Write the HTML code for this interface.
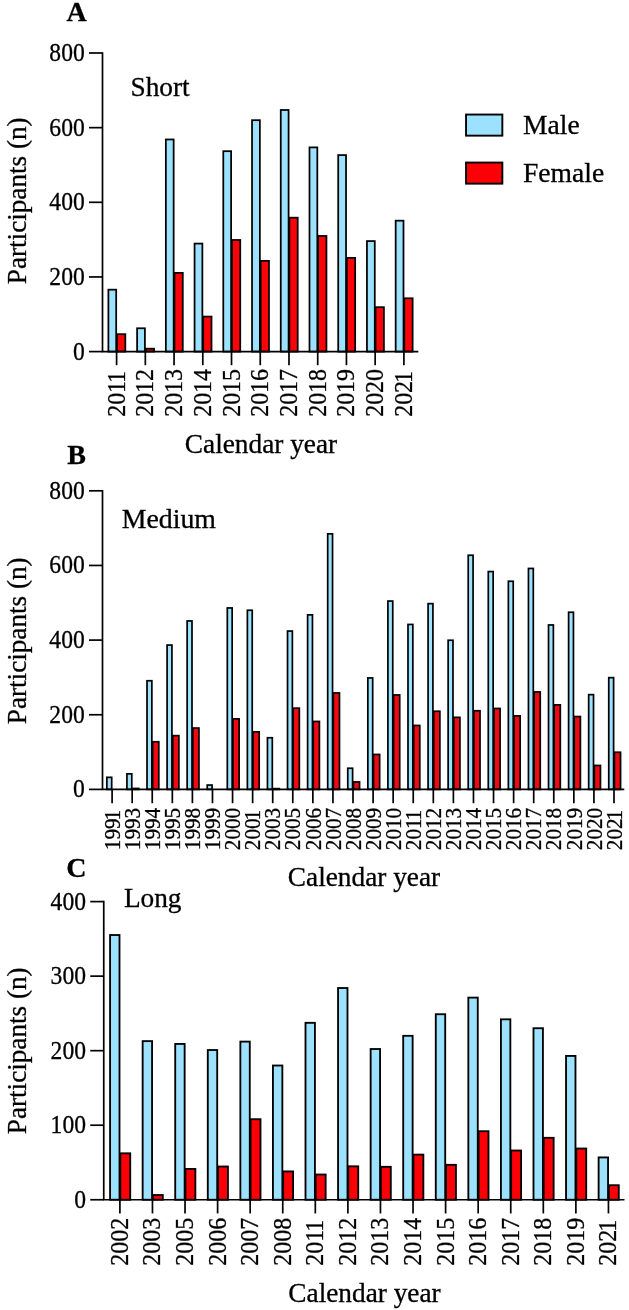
<!DOCTYPE html>
<html><head><meta charset="utf-8"><title>Figure</title>
<style>
html,body{margin:0;padding:0;background:#fff;}
body{width:629px;height:1310px;overflow:hidden;}
svg{display:block;filter:blur(0.35px);}
text{font-family:"Liberation Serif",serif;fill:#000;stroke:#000;stroke-width:0.3px;}
</style></head><body>
<svg width="629" height="1310" viewBox="0 0 629 1310">
<rect width="629" height="1310" fill="#fff"/>
<text x="76.6" y="21" font-size="28" font-weight="bold" text-anchor="middle">A</text>
<text x="130.5" y="96" font-size="27.3">Short</text>
<rect x="108.38" y="289.67" width="7.82" height="61.93" fill="#9ce1fd" stroke="#000" stroke-width="1.75"/>
<rect x="117.00" y="334.17" width="8.32" height="17.43" fill="#f80409" stroke="#000" stroke-width="1.75"/>
<rect x="137.10" y="328.27" width="7.82" height="23.33" fill="#9ce1fd" stroke="#000" stroke-width="1.75"/>
<rect x="145.73" y="348.67" width="8.32" height="2.93" fill="#f80409" stroke="#000" stroke-width="1.75"/>
<rect x="165.84" y="139.47" width="7.82" height="212.13" fill="#9ce1fd" stroke="#000" stroke-width="1.75"/>
<rect x="174.46" y="272.88" width="8.32" height="78.73" fill="#f80409" stroke="#000" stroke-width="1.75"/>
<rect x="194.56" y="243.58" width="7.82" height="108.03" fill="#9ce1fd" stroke="#000" stroke-width="1.75"/>
<rect x="203.19" y="316.57" width="8.32" height="35.03" fill="#f80409" stroke="#000" stroke-width="1.75"/>
<rect x="223.29" y="151.18" width="7.82" height="200.43" fill="#9ce1fd" stroke="#000" stroke-width="1.75"/>
<rect x="231.92" y="239.97" width="8.32" height="111.63" fill="#f80409" stroke="#000" stroke-width="1.75"/>
<rect x="252.03" y="120.18" width="7.83" height="231.43" fill="#9ce1fd" stroke="#000" stroke-width="1.75"/>
<rect x="260.65" y="260.88" width="8.33" height="90.73" fill="#f80409" stroke="#000" stroke-width="1.75"/>
<rect x="280.75" y="109.98" width="7.83" height="241.62" fill="#9ce1fd" stroke="#000" stroke-width="1.75"/>
<rect x="289.38" y="217.68" width="8.33" height="133.93" fill="#f80409" stroke="#000" stroke-width="1.75"/>
<rect x="309.49" y="147.38" width="7.83" height="204.23" fill="#9ce1fd" stroke="#000" stroke-width="1.75"/>
<rect x="318.11" y="235.97" width="8.33" height="115.63" fill="#f80409" stroke="#000" stroke-width="1.75"/>
<rect x="338.21" y="155.08" width="7.83" height="196.53" fill="#9ce1fd" stroke="#000" stroke-width="1.75"/>
<rect x="346.84" y="257.88" width="8.33" height="93.73" fill="#f80409" stroke="#000" stroke-width="1.75"/>
<rect x="366.94" y="241.08" width="7.83" height="110.53" fill="#9ce1fd" stroke="#000" stroke-width="1.75"/>
<rect x="375.57" y="307.17" width="8.33" height="44.43" fill="#f80409" stroke="#000" stroke-width="1.75"/>
<rect x="395.67" y="220.68" width="7.83" height="130.93" fill="#9ce1fd" stroke="#000" stroke-width="1.75"/>
<rect x="404.30" y="298.27" width="8.33" height="53.33" fill="#f80409" stroke="#000" stroke-width="1.75"/>
<path d="M102.5 52.15V351.6M101.65 351.6H418.3" stroke="#000" stroke-width="1.7" fill="none"/>
<path d="M89.0 351.60H102.5" stroke="#000" stroke-width="1.7"/>
<text transform="translate(84.7,359.50) scale(0.947,1)" font-size="24.9" text-anchor="end">0</text>
<path d="M89.0 276.95H102.5" stroke="#000" stroke-width="1.7"/>
<text transform="translate(84.7,284.85) scale(0.947,1)" font-size="24.9" text-anchor="end">200</text>
<path d="M89.0 202.30H102.5" stroke="#000" stroke-width="1.7"/>
<text transform="translate(84.7,210.20) scale(0.947,1)" font-size="24.9" text-anchor="end">400</text>
<path d="M89.0 127.65H102.5" stroke="#000" stroke-width="1.7"/>
<text transform="translate(84.7,135.55) scale(0.947,1)" font-size="24.9" text-anchor="end">600</text>
<path d="M89.0 53.00H102.5" stroke="#000" stroke-width="1.7"/>
<text transform="translate(84.7,60.90) scale(0.947,1)" font-size="24.9" text-anchor="end">800</text>
<path d="M116.60 351.6V365.20000000000005" stroke="#000" stroke-width="1.7"/>
<text transform="translate(124.59,370.95) rotate(-90) scale(0.99,1)" font-size="24.2" text-anchor="end">201<tspan dx="-2.02">1</tspan></text>
<path d="M145.33 351.6V365.20000000000005" stroke="#000" stroke-width="1.7"/>
<text transform="translate(153.32,368.95) rotate(-90) scale(0.99,1)" font-size="24.2" text-anchor="end">2012</text>
<path d="M174.06 351.6V365.20000000000005" stroke="#000" stroke-width="1.7"/>
<text transform="translate(182.05,368.95) rotate(-90) scale(0.99,1)" font-size="24.2" text-anchor="end">2013</text>
<path d="M202.79 351.6V365.20000000000005" stroke="#000" stroke-width="1.7"/>
<text transform="translate(210.78,368.95) rotate(-90) scale(0.99,1)" font-size="24.2" text-anchor="end">2014</text>
<path d="M231.52 351.6V365.20000000000005" stroke="#000" stroke-width="1.7"/>
<text transform="translate(239.51,368.95) rotate(-90) scale(0.99,1)" font-size="24.2" text-anchor="end">2015</text>
<path d="M260.25 351.6V365.20000000000005" stroke="#000" stroke-width="1.7"/>
<text transform="translate(268.24,368.95) rotate(-90) scale(0.99,1)" font-size="24.2" text-anchor="end">2016</text>
<path d="M288.98 351.6V365.20000000000005" stroke="#000" stroke-width="1.7"/>
<text transform="translate(296.97,368.95) rotate(-90) scale(0.99,1)" font-size="24.2" text-anchor="end">2017</text>
<path d="M317.71 351.6V365.20000000000005" stroke="#000" stroke-width="1.7"/>
<text transform="translate(325.70,368.95) rotate(-90) scale(0.99,1)" font-size="24.2" text-anchor="end">2018</text>
<path d="M346.44 351.6V365.20000000000005" stroke="#000" stroke-width="1.7"/>
<text transform="translate(354.43,368.95) rotate(-90) scale(0.99,1)" font-size="24.2" text-anchor="end">2019</text>
<path d="M375.17 351.6V365.20000000000005" stroke="#000" stroke-width="1.7"/>
<text transform="translate(383.16,368.95) rotate(-90) scale(0.99,1)" font-size="24.2" text-anchor="end">2020</text>
<path d="M403.90 351.6V365.20000000000005" stroke="#000" stroke-width="1.7"/>
<text transform="translate(411.89,370.95) rotate(-90) scale(0.99,1)" font-size="24.2" text-anchor="end">202<tspan dx="-2.02">1</tspan></text>
<text x="261" y="453" font-size="27.3" text-anchor="middle">Calendar year</text>
<text transform="translate(26.1,200.8) rotate(-90)" font-size="27.2" text-anchor="middle">Participants (n)</text>
<text x="76.7" y="464.3" font-size="28" font-weight="bold" text-anchor="middle">B</text>
<text x="121.8" y="528.3" font-size="27.8">Medium</text>
<rect x="106.85" y="777.35" width="4.85" height="12.05" fill="#9ce1fd" stroke="#000" stroke-width="1.7"/>
<rect x="126.93" y="773.85" width="4.85" height="15.55" fill="#9ce1fd" stroke="#000" stroke-width="1.7"/>
<rect x="132.58" y="788.45" width="6.15" height="0.95" fill="#ee0a12" stroke="#000" stroke-width="1.7"/>
<rect x="147.00" y="680.75" width="4.85" height="108.65" fill="#9ce1fd" stroke="#000" stroke-width="1.7"/>
<rect x="152.65" y="741.75" width="6.15" height="47.65" fill="#ee0a12" stroke="#000" stroke-width="1.7"/>
<rect x="167.08" y="645.05" width="4.85" height="144.35" fill="#9ce1fd" stroke="#000" stroke-width="1.7"/>
<rect x="172.73" y="735.65" width="6.15" height="53.75" fill="#ee0a12" stroke="#000" stroke-width="1.7"/>
<rect x="187.15" y="620.95" width="4.85" height="168.45" fill="#9ce1fd" stroke="#000" stroke-width="1.7"/>
<rect x="192.80" y="728.05" width="6.15" height="61.35" fill="#ee0a12" stroke="#000" stroke-width="1.7"/>
<rect x="207.23" y="785.05" width="4.85" height="4.35" fill="#9ce1fd" stroke="#000" stroke-width="1.7"/>
<rect x="227.31" y="607.95" width="4.85" height="181.45" fill="#9ce1fd" stroke="#000" stroke-width="1.7"/>
<rect x="232.96" y="718.85" width="6.15" height="70.55" fill="#ee0a12" stroke="#000" stroke-width="1.7"/>
<rect x="247.38" y="610.25" width="4.85" height="179.15" fill="#9ce1fd" stroke="#000" stroke-width="1.7"/>
<rect x="253.03" y="731.85" width="6.15" height="57.55" fill="#ee0a12" stroke="#000" stroke-width="1.7"/>
<rect x="267.46" y="737.75" width="4.85" height="51.65" fill="#9ce1fd" stroke="#000" stroke-width="1.7"/>
<rect x="273.11" y="788.65" width="6.15" height="0.75" fill="#ee0a12" stroke="#000" stroke-width="1.7"/>
<rect x="287.53" y="631.05" width="4.85" height="158.35" fill="#9ce1fd" stroke="#000" stroke-width="1.7"/>
<rect x="293.18" y="708.15" width="6.15" height="81.25" fill="#ee0a12" stroke="#000" stroke-width="1.7"/>
<rect x="307.61" y="614.85" width="4.85" height="174.55" fill="#9ce1fd" stroke="#000" stroke-width="1.7"/>
<rect x="313.26" y="721.45" width="6.15" height="67.95" fill="#ee0a12" stroke="#000" stroke-width="1.7"/>
<rect x="327.69" y="533.85" width="4.85" height="255.55" fill="#9ce1fd" stroke="#000" stroke-width="1.7"/>
<rect x="333.34" y="692.95" width="6.15" height="96.45" fill="#ee0a12" stroke="#000" stroke-width="1.7"/>
<rect x="347.76" y="768.25" width="4.85" height="21.15" fill="#9ce1fd" stroke="#000" stroke-width="1.7"/>
<rect x="353.41" y="781.95" width="6.15" height="7.45" fill="#ee0a12" stroke="#000" stroke-width="1.7"/>
<rect x="367.84" y="677.95" width="4.85" height="111.45" fill="#9ce1fd" stroke="#000" stroke-width="1.7"/>
<rect x="373.49" y="754.45" width="6.15" height="34.95" fill="#ee0a12" stroke="#000" stroke-width="1.7"/>
<rect x="387.91" y="601.05" width="4.85" height="188.35" fill="#9ce1fd" stroke="#000" stroke-width="1.7"/>
<rect x="393.56" y="694.95" width="6.15" height="94.45" fill="#ee0a12" stroke="#000" stroke-width="1.7"/>
<rect x="407.99" y="624.45" width="4.85" height="164.95" fill="#9ce1fd" stroke="#000" stroke-width="1.7"/>
<rect x="413.64" y="725.45" width="6.15" height="63.95" fill="#ee0a12" stroke="#000" stroke-width="1.7"/>
<rect x="428.07" y="603.65" width="4.85" height="185.75" fill="#9ce1fd" stroke="#000" stroke-width="1.7"/>
<rect x="433.72" y="711.25" width="6.15" height="78.15" fill="#ee0a12" stroke="#000" stroke-width="1.7"/>
<rect x="448.14" y="640.25" width="4.85" height="149.15" fill="#9ce1fd" stroke="#000" stroke-width="1.7"/>
<rect x="453.79" y="717.35" width="6.15" height="72.05" fill="#ee0a12" stroke="#000" stroke-width="1.7"/>
<rect x="468.22" y="555.25" width="4.85" height="234.15" fill="#9ce1fd" stroke="#000" stroke-width="1.7"/>
<rect x="473.87" y="710.75" width="6.15" height="78.65" fill="#ee0a12" stroke="#000" stroke-width="1.7"/>
<rect x="488.29" y="571.55" width="4.85" height="217.85" fill="#9ce1fd" stroke="#000" stroke-width="1.7"/>
<rect x="493.94" y="708.45" width="6.15" height="80.95" fill="#ee0a12" stroke="#000" stroke-width="1.7"/>
<rect x="508.37" y="581.25" width="4.85" height="208.15" fill="#9ce1fd" stroke="#000" stroke-width="1.7"/>
<rect x="514.02" y="715.85" width="6.15" height="73.55" fill="#ee0a12" stroke="#000" stroke-width="1.7"/>
<rect x="528.45" y="568.45" width="4.85" height="220.95" fill="#9ce1fd" stroke="#000" stroke-width="1.7"/>
<rect x="534.10" y="691.95" width="6.15" height="97.45" fill="#ee0a12" stroke="#000" stroke-width="1.7"/>
<rect x="548.52" y="624.95" width="4.85" height="164.45" fill="#9ce1fd" stroke="#000" stroke-width="1.7"/>
<rect x="554.17" y="704.85" width="6.15" height="84.55" fill="#ee0a12" stroke="#000" stroke-width="1.7"/>
<rect x="568.60" y="612.25" width="4.85" height="177.15" fill="#9ce1fd" stroke="#000" stroke-width="1.7"/>
<rect x="574.25" y="716.55" width="6.15" height="72.85" fill="#ee0a12" stroke="#000" stroke-width="1.7"/>
<rect x="588.67" y="694.65" width="4.85" height="94.75" fill="#9ce1fd" stroke="#000" stroke-width="1.7"/>
<rect x="594.32" y="765.45" width="6.15" height="23.95" fill="#ee0a12" stroke="#000" stroke-width="1.7"/>
<rect x="608.75" y="677.65" width="4.85" height="111.75" fill="#9ce1fd" stroke="#000" stroke-width="1.7"/>
<rect x="614.40" y="752.25" width="6.15" height="37.15" fill="#ee0a12" stroke="#000" stroke-width="1.7"/>
<path d="M102.5 489.95V789.4M101.65 789.4H624.3" stroke="#000" stroke-width="1.7" fill="none"/>
<path d="M89.0 789.40H102.5" stroke="#000" stroke-width="1.7"/>
<text transform="translate(84.7,797.30) scale(0.947,1)" font-size="24.9" text-anchor="end">0</text>
<path d="M89.0 714.75H102.5" stroke="#000" stroke-width="1.7"/>
<text transform="translate(84.7,722.65) scale(0.947,1)" font-size="24.9" text-anchor="end">200</text>
<path d="M89.0 640.10H102.5" stroke="#000" stroke-width="1.7"/>
<text transform="translate(84.7,648.00) scale(0.947,1)" font-size="24.9" text-anchor="end">400</text>
<path d="M89.0 565.45H102.5" stroke="#000" stroke-width="1.7"/>
<text transform="translate(84.7,573.35) scale(0.947,1)" font-size="24.9" text-anchor="end">600</text>
<path d="M89.0 490.80H102.5" stroke="#000" stroke-width="1.7"/>
<text transform="translate(84.7,498.70) scale(0.947,1)" font-size="24.9" text-anchor="end">800</text>
<path d="M112.10 789.4V803.1999999999999" stroke="#000" stroke-width="1.7"/>
<text transform="translate(119.76,809.8) rotate(-90) scale(0.915,1)" font-size="23.2" text-anchor="end">199<tspan dx="-2.19">1</tspan></text>
<path d="M132.18 789.4V803.1999999999999" stroke="#000" stroke-width="1.7"/>
<text transform="translate(139.83,807.8) rotate(-90) scale(0.915,1)" font-size="23.2" text-anchor="end">1993</text>
<path d="M152.25 789.4V803.1999999999999" stroke="#000" stroke-width="1.7"/>
<text transform="translate(159.91,807.8) rotate(-90) scale(0.915,1)" font-size="23.2" text-anchor="end">1994</text>
<path d="M172.33 789.4V803.1999999999999" stroke="#000" stroke-width="1.7"/>
<text transform="translate(179.98,807.8) rotate(-90) scale(0.915,1)" font-size="23.2" text-anchor="end">1995</text>
<path d="M192.40 789.4V803.1999999999999" stroke="#000" stroke-width="1.7"/>
<text transform="translate(200.06,807.8) rotate(-90) scale(0.915,1)" font-size="23.2" text-anchor="end">1998</text>
<path d="M212.48 789.4V803.1999999999999" stroke="#000" stroke-width="1.7"/>
<text transform="translate(220.14,807.8) rotate(-90) scale(0.915,1)" font-size="23.2" text-anchor="end">1999</text>
<path d="M232.56 789.4V803.1999999999999" stroke="#000" stroke-width="1.7"/>
<text transform="translate(240.21,807.8) rotate(-90) scale(0.915,1)" font-size="23.2" text-anchor="end">2000</text>
<path d="M252.63 789.4V803.1999999999999" stroke="#000" stroke-width="1.7"/>
<text transform="translate(260.29,809.8) rotate(-90) scale(0.915,1)" font-size="23.2" text-anchor="end">200<tspan dx="-2.19">1</tspan></text>
<path d="M272.71 789.4V803.1999999999999" stroke="#000" stroke-width="1.7"/>
<text transform="translate(280.36,807.8) rotate(-90) scale(0.915,1)" font-size="23.2" text-anchor="end">2003</text>
<path d="M292.78 789.4V803.1999999999999" stroke="#000" stroke-width="1.7"/>
<text transform="translate(300.44,807.8) rotate(-90) scale(0.915,1)" font-size="23.2" text-anchor="end">2005</text>
<path d="M312.86 789.4V803.1999999999999" stroke="#000" stroke-width="1.7"/>
<text transform="translate(320.52,807.8) rotate(-90) scale(0.915,1)" font-size="23.2" text-anchor="end">2006</text>
<path d="M332.94 789.4V803.1999999999999" stroke="#000" stroke-width="1.7"/>
<text transform="translate(340.59,807.8) rotate(-90) scale(0.915,1)" font-size="23.2" text-anchor="end">2007</text>
<path d="M353.01 789.4V803.1999999999999" stroke="#000" stroke-width="1.7"/>
<text transform="translate(360.67,807.8) rotate(-90) scale(0.915,1)" font-size="23.2" text-anchor="end">2008</text>
<path d="M373.09 789.4V803.1999999999999" stroke="#000" stroke-width="1.7"/>
<text transform="translate(380.74,807.8) rotate(-90) scale(0.915,1)" font-size="23.2" text-anchor="end">2009</text>
<path d="M393.16 789.4V803.1999999999999" stroke="#000" stroke-width="1.7"/>
<text transform="translate(400.82,807.8) rotate(-90) scale(0.915,1)" font-size="23.2" text-anchor="end">2010</text>
<path d="M413.24 789.4V803.1999999999999" stroke="#000" stroke-width="1.7"/>
<text transform="translate(420.90,809.8) rotate(-90) scale(0.915,1)" font-size="23.2" text-anchor="end">201<tspan dx="-2.19">1</tspan></text>
<path d="M433.32 789.4V803.1999999999999" stroke="#000" stroke-width="1.7"/>
<text transform="translate(440.97,807.8) rotate(-90) scale(0.915,1)" font-size="23.2" text-anchor="end">2012</text>
<path d="M453.39 789.4V803.1999999999999" stroke="#000" stroke-width="1.7"/>
<text transform="translate(461.05,807.8) rotate(-90) scale(0.915,1)" font-size="23.2" text-anchor="end">2013</text>
<path d="M473.47 789.4V803.1999999999999" stroke="#000" stroke-width="1.7"/>
<text transform="translate(481.12,807.8) rotate(-90) scale(0.915,1)" font-size="23.2" text-anchor="end">2014</text>
<path d="M493.54 789.4V803.1999999999999" stroke="#000" stroke-width="1.7"/>
<text transform="translate(501.20,807.8) rotate(-90) scale(0.915,1)" font-size="23.2" text-anchor="end">2015</text>
<path d="M513.62 789.4V803.1999999999999" stroke="#000" stroke-width="1.7"/>
<text transform="translate(521.28,807.8) rotate(-90) scale(0.915,1)" font-size="23.2" text-anchor="end">2016</text>
<path d="M533.70 789.4V803.1999999999999" stroke="#000" stroke-width="1.7"/>
<text transform="translate(541.35,807.8) rotate(-90) scale(0.915,1)" font-size="23.2" text-anchor="end">2017</text>
<path d="M553.77 789.4V803.1999999999999" stroke="#000" stroke-width="1.7"/>
<text transform="translate(561.43,807.8) rotate(-90) scale(0.915,1)" font-size="23.2" text-anchor="end">2018</text>
<path d="M573.85 789.4V803.1999999999999" stroke="#000" stroke-width="1.7"/>
<text transform="translate(581.50,807.8) rotate(-90) scale(0.915,1)" font-size="23.2" text-anchor="end">2019</text>
<path d="M593.92 789.4V803.1999999999999" stroke="#000" stroke-width="1.7"/>
<text transform="translate(601.58,807.8) rotate(-90) scale(0.915,1)" font-size="23.2" text-anchor="end">2020</text>
<path d="M614.00 789.4V803.1999999999999" stroke="#000" stroke-width="1.7"/>
<text transform="translate(621.66,809.8) rotate(-90) scale(0.915,1)" font-size="23.2" text-anchor="end">202<tspan dx="-2.19">1</tspan></text>
<text x="364" y="886" font-size="27.3" text-anchor="middle">Calendar year</text>
<text transform="translate(26.1,640.8) rotate(-90)" font-size="27.2" text-anchor="middle">Participants (n)</text>
<text x="76.4" y="877.3" font-size="28" font-weight="bold" text-anchor="middle">C</text>
<text x="123.9" y="907.4" font-size="27.3">Long</text>
<rect x="110.08" y="935.02" width="9.42" height="264.72" fill="#9ce1fd" stroke="#000" stroke-width="1.85"/>
<rect x="120.30" y="1153.32" width="9.92" height="46.43" fill="#fc0008" stroke="#000" stroke-width="1.85"/>
<rect x="142.65" y="1041.12" width="9.42" height="158.63" fill="#9ce1fd" stroke="#000" stroke-width="1.85"/>
<rect x="152.87" y="1195.02" width="9.92" height="4.73" fill="#fc0008" stroke="#000" stroke-width="1.85"/>
<rect x="175.22" y="1043.92" width="9.42" height="155.82" fill="#9ce1fd" stroke="#000" stroke-width="1.85"/>
<rect x="185.44" y="1168.92" width="9.92" height="30.82" fill="#fc0008" stroke="#000" stroke-width="1.85"/>
<rect x="207.79" y="1050.02" width="9.42" height="149.73" fill="#9ce1fd" stroke="#000" stroke-width="1.85"/>
<rect x="218.01" y="1166.52" width="9.92" height="33.23" fill="#fc0008" stroke="#000" stroke-width="1.85"/>
<rect x="240.36" y="1041.62" width="9.42" height="158.13" fill="#9ce1fd" stroke="#000" stroke-width="1.85"/>
<rect x="250.58" y="1119.22" width="9.92" height="80.53" fill="#fc0008" stroke="#000" stroke-width="1.85"/>
<rect x="272.93" y="1065.52" width="9.43" height="134.23" fill="#9ce1fd" stroke="#000" stroke-width="1.85"/>
<rect x="283.15" y="1171.42" width="9.93" height="28.32" fill="#fc0008" stroke="#000" stroke-width="1.85"/>
<rect x="305.50" y="1022.82" width="9.43" height="176.93" fill="#9ce1fd" stroke="#000" stroke-width="1.85"/>
<rect x="315.72" y="1174.52" width="9.93" height="25.23" fill="#fc0008" stroke="#000" stroke-width="1.85"/>
<rect x="338.06" y="988.02" width="9.43" height="211.72" fill="#9ce1fd" stroke="#000" stroke-width="1.85"/>
<rect x="348.29" y="1166.32" width="9.93" height="33.43" fill="#fc0008" stroke="#000" stroke-width="1.85"/>
<rect x="370.64" y="1049.02" width="9.43" height="150.73" fill="#9ce1fd" stroke="#000" stroke-width="1.85"/>
<rect x="380.86" y="1166.82" width="9.93" height="32.93" fill="#fc0008" stroke="#000" stroke-width="1.85"/>
<rect x="403.20" y="1035.82" width="9.43" height="163.93" fill="#9ce1fd" stroke="#000" stroke-width="1.85"/>
<rect x="413.43" y="1154.62" width="9.93" height="45.13" fill="#fc0008" stroke="#000" stroke-width="1.85"/>
<rect x="435.78" y="1014.23" width="9.43" height="185.52" fill="#9ce1fd" stroke="#000" stroke-width="1.85"/>
<rect x="446.00" y="1164.82" width="9.93" height="34.93" fill="#fc0008" stroke="#000" stroke-width="1.85"/>
<rect x="468.34" y="997.62" width="9.43" height="202.12" fill="#9ce1fd" stroke="#000" stroke-width="1.85"/>
<rect x="478.57" y="1131.22" width="9.93" height="68.53" fill="#fc0008" stroke="#000" stroke-width="1.85"/>
<rect x="500.92" y="1019.32" width="9.43" height="180.43" fill="#9ce1fd" stroke="#000" stroke-width="1.85"/>
<rect x="511.14" y="1150.52" width="9.93" height="49.23" fill="#fc0008" stroke="#000" stroke-width="1.85"/>
<rect x="533.49" y="1028.22" width="9.43" height="171.53" fill="#9ce1fd" stroke="#000" stroke-width="1.85"/>
<rect x="543.71" y="1137.82" width="9.93" height="61.93" fill="#fc0008" stroke="#000" stroke-width="1.85"/>
<rect x="566.05" y="1055.92" width="9.43" height="143.82" fill="#9ce1fd" stroke="#000" stroke-width="1.85"/>
<rect x="576.28" y="1148.52" width="9.93" height="51.23" fill="#fc0008" stroke="#000" stroke-width="1.85"/>
<rect x="598.62" y="1157.42" width="9.43" height="42.33" fill="#9ce1fd" stroke="#000" stroke-width="1.85"/>
<rect x="608.85" y="1185.22" width="9.93" height="14.53" fill="#fc0008" stroke="#000" stroke-width="1.85"/>
<path d="M103.75 900.75V1199.75M102.90 1199.75H624.5" stroke="#000" stroke-width="1.7" fill="none"/>
<path d="M90.25 1199.75H103.75" stroke="#000" stroke-width="1.7"/>
<text transform="translate(85.95,1207.65) scale(0.947,1)" font-size="24.9" text-anchor="end">0</text>
<path d="M90.25 1125.21H103.75" stroke="#000" stroke-width="1.7"/>
<text transform="translate(85.95,1133.11) scale(0.947,1)" font-size="24.9" text-anchor="end">100</text>
<path d="M90.25 1050.67H103.75" stroke="#000" stroke-width="1.7"/>
<text transform="translate(85.95,1058.58) scale(0.947,1)" font-size="24.9" text-anchor="end">200</text>
<path d="M90.25 976.14H103.75" stroke="#000" stroke-width="1.7"/>
<text transform="translate(85.95,984.04) scale(0.947,1)" font-size="24.9" text-anchor="end">300</text>
<path d="M90.25 901.60H103.75" stroke="#000" stroke-width="1.7"/>
<text transform="translate(85.95,909.50) scale(0.947,1)" font-size="24.9" text-anchor="end">400</text>
<path d="M119.90 1199.75V1213.45" stroke="#000" stroke-width="1.7"/>
<text transform="translate(127.89,1217.8) rotate(-90) scale(0.99,1)" font-size="24.2" text-anchor="end">2002</text>
<path d="M152.47 1199.75V1213.45" stroke="#000" stroke-width="1.7"/>
<text transform="translate(160.46,1217.8) rotate(-90) scale(0.99,1)" font-size="24.2" text-anchor="end">2003</text>
<path d="M185.04 1199.75V1213.45" stroke="#000" stroke-width="1.7"/>
<text transform="translate(193.03,1217.8) rotate(-90) scale(0.99,1)" font-size="24.2" text-anchor="end">2005</text>
<path d="M217.61 1199.75V1213.45" stroke="#000" stroke-width="1.7"/>
<text transform="translate(225.60,1217.8) rotate(-90) scale(0.99,1)" font-size="24.2" text-anchor="end">2006</text>
<path d="M250.18 1199.75V1213.45" stroke="#000" stroke-width="1.7"/>
<text transform="translate(258.17,1217.8) rotate(-90) scale(0.99,1)" font-size="24.2" text-anchor="end">2007</text>
<path d="M282.75 1199.75V1213.45" stroke="#000" stroke-width="1.7"/>
<text transform="translate(290.74,1217.8) rotate(-90) scale(0.99,1)" font-size="24.2" text-anchor="end">2008</text>
<path d="M315.32 1199.75V1213.45" stroke="#000" stroke-width="1.7"/>
<text transform="translate(323.31,1219.8) rotate(-90) scale(0.99,1)" font-size="24.2" text-anchor="end">201<tspan dx="-2.02">1</tspan></text>
<path d="M347.89 1199.75V1213.45" stroke="#000" stroke-width="1.7"/>
<text transform="translate(355.88,1217.8) rotate(-90) scale(0.99,1)" font-size="24.2" text-anchor="end">2012</text>
<path d="M380.46 1199.75V1213.45" stroke="#000" stroke-width="1.7"/>
<text transform="translate(388.45,1217.8) rotate(-90) scale(0.99,1)" font-size="24.2" text-anchor="end">2013</text>
<path d="M413.03 1199.75V1213.45" stroke="#000" stroke-width="1.7"/>
<text transform="translate(421.02,1217.8) rotate(-90) scale(0.99,1)" font-size="24.2" text-anchor="end">2014</text>
<path d="M445.60 1199.75V1213.45" stroke="#000" stroke-width="1.7"/>
<text transform="translate(453.59,1217.8) rotate(-90) scale(0.99,1)" font-size="24.2" text-anchor="end">2015</text>
<path d="M478.17 1199.75V1213.45" stroke="#000" stroke-width="1.7"/>
<text transform="translate(486.16,1217.8) rotate(-90) scale(0.99,1)" font-size="24.2" text-anchor="end">2016</text>
<path d="M510.74 1199.75V1213.45" stroke="#000" stroke-width="1.7"/>
<text transform="translate(518.73,1217.8) rotate(-90) scale(0.99,1)" font-size="24.2" text-anchor="end">2017</text>
<path d="M543.31 1199.75V1213.45" stroke="#000" stroke-width="1.7"/>
<text transform="translate(551.30,1217.8) rotate(-90) scale(0.99,1)" font-size="24.2" text-anchor="end">2018</text>
<path d="M575.88 1199.75V1213.45" stroke="#000" stroke-width="1.7"/>
<text transform="translate(583.87,1217.8) rotate(-90) scale(0.99,1)" font-size="24.2" text-anchor="end">2019</text>
<path d="M608.45 1199.75V1213.45" stroke="#000" stroke-width="1.7"/>
<text transform="translate(616.44,1219.8) rotate(-90) scale(0.99,1)" font-size="24.2" text-anchor="end">202<tspan dx="-2.02">1</tspan></text>
<text x="364.5" y="1301.5" font-size="27.3" text-anchor="middle">Calendar year</text>
<text transform="translate(26.1,1050.8) rotate(-90)" font-size="27.2" text-anchor="middle">Participants (n)</text>
<rect x="466.05" y="114.55" width="36.3" height="21.1" fill="#9ce1fd" stroke="#000" stroke-width="1.9"/>
<rect x="466.05" y="162.55" width="36.3" height="21.1" fill="#fc0008" stroke="#000" stroke-width="1.9"/>
<text x="523" y="134" font-size="27.6">Male</text>
<text x="523" y="181.6" font-size="27.6">Female</text>
</svg>
</body></html>
